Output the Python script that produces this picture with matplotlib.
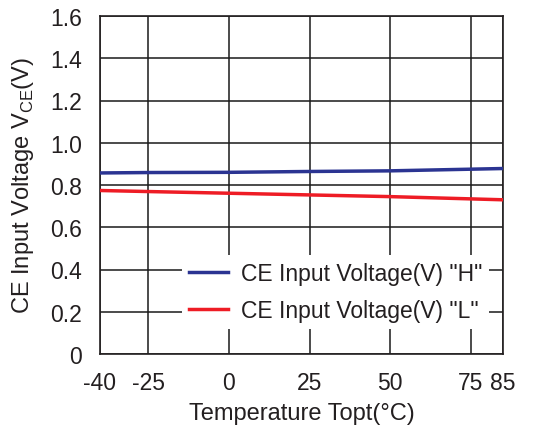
import matplotlib
matplotlib.use("Agg")
import matplotlib.pyplot as plt

plt.rcParams['font.family'] = ['Liberation Sans', 'DejaVu Sans']
plt.rcParams['mathtext.fontset'] = 'custom'
plt.rcParams['mathtext.rm'] = 'Liberation Sans'
plt.rcParams['axes.unicode_minus'] = False

temps = [-40, -25, 0, 25, 50, 85]
v_high = [0.857, 0.859, 0.860, 0.864, 0.867, 0.878]
v_low = [0.774, 0.769, 0.761, 0.753, 0.745, 0.730]
xticks = [-40, -25, 0, 25, 50, 75, 85]
yticks = [0, 0.2, 0.4, 0.6, 0.8, 1.0, 1.2, 1.4, 1.6]
ytick_labels = ['0', '0.2', '0.4', '0.6', '0.8', '1.0', '1.2', '1.4', '1.6']
labels = ['CE Input Voltage(V) "H"', 'CE Input Voltage(V) "L"']

fig = plt.figure(figsize=(5.45, 4.31), dpi=100)
ax = fig.add_axes([100/545, 1-355/431, 403/545, 338/431])

ax.plot(temps, v_high, color='#2B3492', lw=2.5, label=labels[0], zorder=3)
ax.plot(temps, v_low, color='#EE1C25', lw=2.5, label=labels[1], zorder=3)

ax.set_xlim(-40, 85)
ax.set_ylim(0, 1.6)
ax.set_xticks(xticks)
ax.set_yticks(yticks)
ax.set_yticklabels(ytick_labels)
ax.grid(True, color='#1a1a1a', lw=1.1)
ax.set_axisbelow(True)
ax.tick_params(length=0, labelsize=16.5, colors='#231f20')
ax.tick_params(axis='y', pad=13)
ax.tick_params(axis='x', pad=12)
for s in ax.spines.values():
    s.set_color('#231f20')
    s.set_linewidth(1.2)

ax.set_xlabel('Temperature Topt(°C)', fontsize=17, color='#231f20', labelpad=6)
ax.set_ylabel(r'CE Input Voltage V$_{\mathregular{CE}}$(V)', fontsize=17, color='#231f20', labelpad=10)

leg = ax.legend(loc='lower right', bbox_to_anchor=(0.965, 0.075), fontsize=16.5,
                frameon=True, fancybox=False, framealpha=1, edgecolor='none',
                facecolor='white', handlelength=1.7, handletextpad=0.55,
                labelspacing=0.6, borderpad=0.3, borderaxespad=0)
for t in leg.get_texts():
    t.set_color('#231f20')

fig.savefig('out.png', dpi=100)
